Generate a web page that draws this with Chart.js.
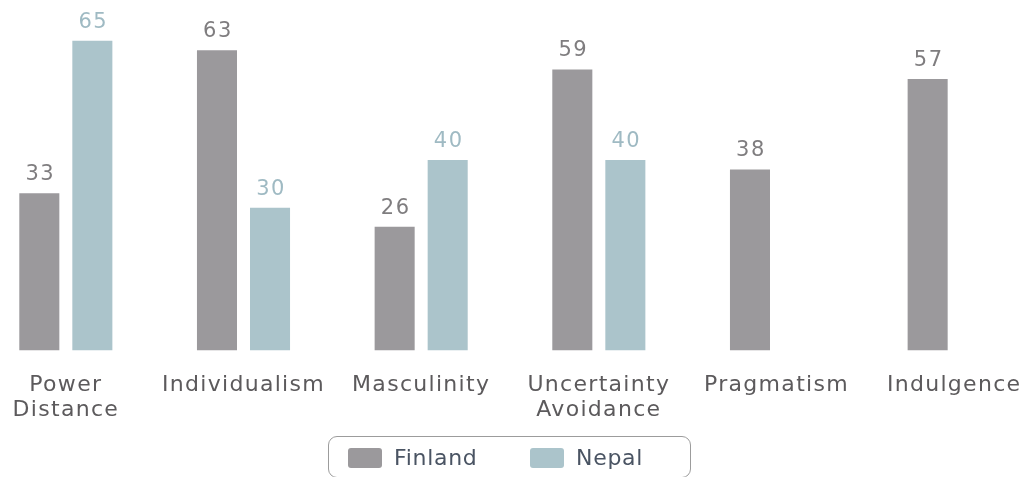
<!DOCTYPE html>
<html>
<head>
<meta charset="utf-8">
<script src="https://cdn.jsdelivr.net/npm/chart.js@4"></script>
<style>
  html, body { margin: 0; padding: 0; background: #fff; overflow: hidden; }
  body { width: 1031px; height: 477px; position: relative; }
  #wrap { position: absolute; left: -23px; top: 0; width: 1066px; height: 477px; }
  #legend {
    position: absolute; left: 328px; top: 436px; width: 363px; height: 42px;
    box-sizing: border-box; border: 1.5px solid #9c9c9c; border-radius: 9px;
    font-family: "DejaVu Sans", sans-serif; font-size: 22px; color: #4a5463;
  }
  .item { position: absolute; top: 10px; height: 24px; line-height: 24px; }
  .sw { position: absolute; top: 1px; left: 0; width: 34px; height: 20px; border-radius: 3px; }
  .lbl { position: absolute; left: 46px; top: -1px; white-space: nowrap; letter-spacing: 0.7px; }
</style>
</head>
<body>
<div id="wrap"><canvas id="cultureChart"></canvas></div>
<div id="legend"></div>
<script>
// categories and scores
const categories = [["Power", "Distance"], "Individualism", "Masculinity", ["Uncertainty", "Avoidance"], "Pragmatism", "Indulgence"];
const finland = [33, 63, 26, 59, 38, 57];
const nepal = [65, 30, 40, 40, null, null];

const finlandColor = "#9b999c";
const nepalColor = "#abc4cb";

// numbers above the bars
const valueLabels = {
    id: "valueLabels",
    afterDatasetsDraw(chart) {
        const ctx = chart.ctx;
        ctx.save();
        ctx.font = "21px 'DejaVu Sans'";
        ctx.letterSpacing = "1.5px";
        ctx.textAlign = "center";
        ctx.textBaseline = "bottom";
        chart.data.datasets.forEach((ds, i) => {
            const meta = chart.getDatasetMeta(i);
            ctx.fillStyle = ds.labelColor;
            meta.data.forEach((bar, j) => {
                if (ds.data[j] == null) return;
                ctx.fillText(String(ds.data[j]), bar.x + 1, bar.y - 8);
            });
        });
        ctx.restore();
    }
};

// letter spacing for the axis labels
const spacing = {
    id: "spacing",
    beforeDraw(chart) {
        chart.ctx.letterSpacing = "1.3px";
    }
};

const ctxCulture = document.getElementById("cultureChart");

const cultureChart = new Chart(ctxCulture, {
    type: "bar",
    data: {
        labels: categories,
        datasets: [{
            label: "Finland",
            data: finland,
            backgroundColor: finlandColor,
            labelColor: "#7f7d7f",
            borderWidth: 0
        }, {
            label: "Nepal",
            data: nepal,
            backgroundColor: nepalColor,
            labelColor: "#9fbac3",
            borderWidth: 0
        }]
    },
    options: {
        responsive: true,
        maintainAspectRatio: false,
        animation: false,
        categoryPercentage: 0.597,
        barPercentage: 0.755,
        layout: {
            padding: { top: 17, bottom: 32, left: 0, right: 0 }
        },
        scales: {
            x: {
                grid: { display: false, drawTicks: false },
                border: { display: false },
                ticks: {
                    color: "#5c5a5c",
                    padding: 23,
                    maxRotation: 0,
                    autoSkip: false,
                    font: { family: "'DejaVu Sans'", size: 22, lineHeight: 1.1 }
                }
            },
            y: {
                display: false,
                min: 0,
                max: 70
            }
        },
        plugins: {
            legend: { display: false },
            tooltip: { enabled: false }
        }
    },
    plugins: [valueLabels, spacing]
});

// legend box under the chart
const legendEl = document.getElementById("legend");
const legendX = [19, 201];
cultureChart.data.datasets.forEach((ds, i) => {
    const item = document.createElement("div");
    item.className = "item";
    item.style.left = legendX[i] + "px";
    item.innerHTML = '<span class="sw" style="background:' + ds.backgroundColor + '"></span><span class="lbl">' + ds.label + '</span>';
    legendEl.appendChild(item);
});
</script>
</body>
</html>
